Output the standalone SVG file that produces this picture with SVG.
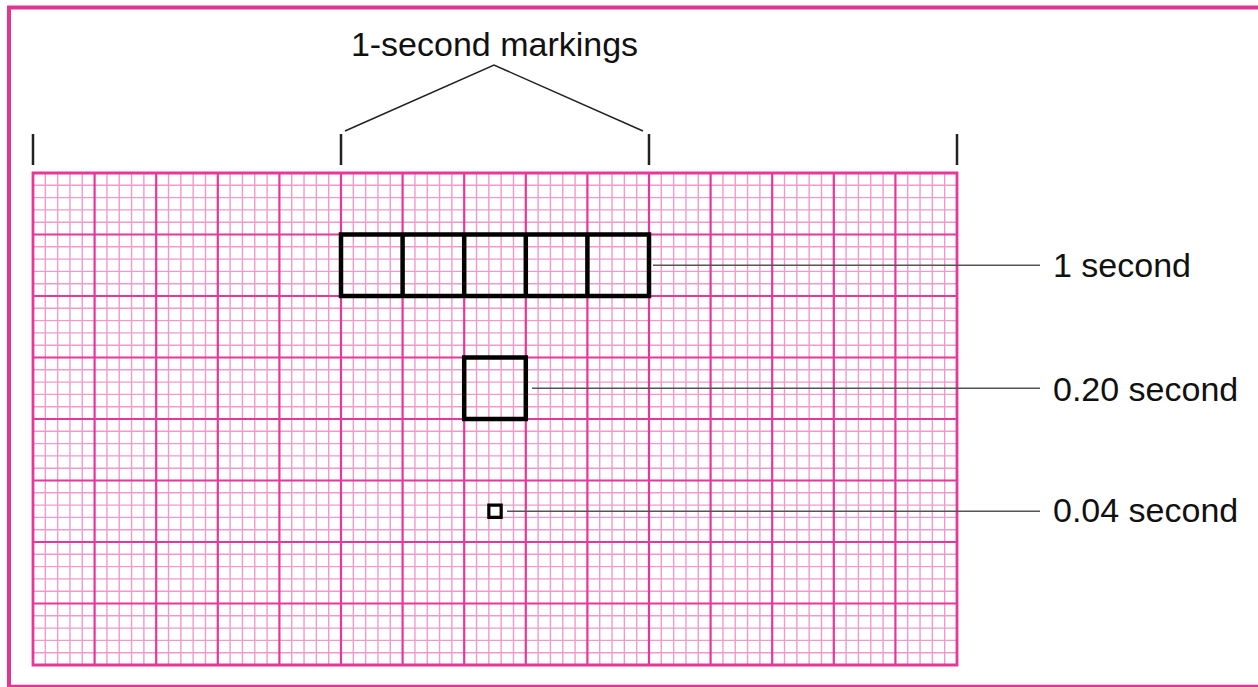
<svg xmlns="http://www.w3.org/2000/svg" width="1258" height="687" viewBox="0 0 1258 687">
<style>
.ns{vector-effect:non-scaling-stroke;fill:none}
.minor{stroke:#f09acb;stroke-width:1.4}
.major{stroke:#e8379b;stroke-width:2.2}
.outer{stroke:#e8379b;stroke-width:2.8}
.box{stroke:#000;stroke-width:4.5;fill:none}
.small{stroke:#000;stroke-width:3.2;fill:none}
.lead{stroke:#555;stroke-width:1.6;fill:none}
.tick{stroke:#222;stroke-width:2.5;fill:none}
.brk{stroke:#222;stroke-width:1.5;fill:none}
.lbl{font-family:"Liberation Sans",Arial,sans-serif;font-size:34px;fill:#111}
.frame{stroke:#e23492;fill:none}
</style>
<rect width="1258" height="687" fill="#fff"/>
<g id="frame">
<path class="frame" stroke-width="4" d="M9 687V7.5H1258"/>
<path class="frame" stroke-width="2.5" d="M9 686H1258"/>
</g>
<g id="grid" transform="translate(33,173) scale(12.32,12.3)">
<path class="ns minor" d="M1 0V40M2 0V40M3 0V40M4 0V40M6 0V40M7 0V40M8 0V40M9 0V40M11 0V40M12 0V40M13 0V40M14 0V40M16 0V40M17 0V40M18 0V40M19 0V40M21 0V40M22 0V40M23 0V40M24 0V40M26 0V40M27 0V40M28 0V40M29 0V40M31 0V40M32 0V40M33 0V40M34 0V40M36 0V40M37 0V40M38 0V40M39 0V40M41 0V40M42 0V40M43 0V40M44 0V40M46 0V40M47 0V40M48 0V40M49 0V40M51 0V40M52 0V40M53 0V40M54 0V40M56 0V40M57 0V40M58 0V40M59 0V40M61 0V40M62 0V40M63 0V40M64 0V40M66 0V40M67 0V40M68 0V40M69 0V40M71 0V40M72 0V40M73 0V40M74 0V40M0 1H75M0 2H75M0 3H75M0 4H75M0 6H75M0 7H75M0 8H75M0 9H75M0 11H75M0 12H75M0 13H75M0 14H75M0 16H75M0 17H75M0 18H75M0 19H75M0 21H75M0 22H75M0 23H75M0 24H75M0 26H75M0 27H75M0 28H75M0 29H75M0 31H75M0 32H75M0 33H75M0 34H75M0 36H75M0 37H75M0 38H75M0 39H75"/>
<path class="ns major" d="M5 0V40M10 0V40M15 0V40M20 0V40M25 0V40M30 0V40M35 0V40M40 0V40M45 0V40M50 0V40M55 0V40M60 0V40M65 0V40M70 0V40M0 5H75M0 10H75M0 15H75M0 20H75M0 25H75M0 30H75M0 35H75"/>
<rect class="ns outer" x="0" y="0" width="75" height="40"/>
</g>
<g id="box-1s" transform="translate(33,173) scale(12.32,12.3)">
<rect class="ns box" x="25" y="5" width="25" height="5"/>
<path class="ns box" d="M30 5V10M35 5V10M40 5V10M45 5V10"/>
</g>
<g id="box-020s" transform="translate(33,173) scale(12.32,12.3)">
<rect class="ns box" x="35" y="15" width="5" height="5"/>
</g>
<g id="box-004s" transform="translate(33,173) scale(12.32,12.3)">
<rect class="ns small" x="37" y="27" width="1" height="1"/>
</g>
<g id="markings">
<path class="tick" d="M33 134V165M341 134V165M649 134V165M957 134V165"/>
<path class="brk" d="M345 131L494 65L643 131"/>
<text class="lbl" x="494.5" y="56" text-anchor="middle">1-second markings</text>
</g>
<g id="connectors">
<path class="lead" d="M653 265.2H1040"/>
<path class="lead" d="M532 388.2H1040"/>
<path class="lead" d="M507 511.2H1040"/>
</g>
<g id="label-1s"><text class="lbl" x="1053" y="277">1 second</text></g>
<g id="label-020s"><text class="lbl" x="1053" y="401">0.20 second</text></g>
<g id="label-004s"><text class="lbl" x="1053" y="522">0.04 second</text></g>
</svg>
